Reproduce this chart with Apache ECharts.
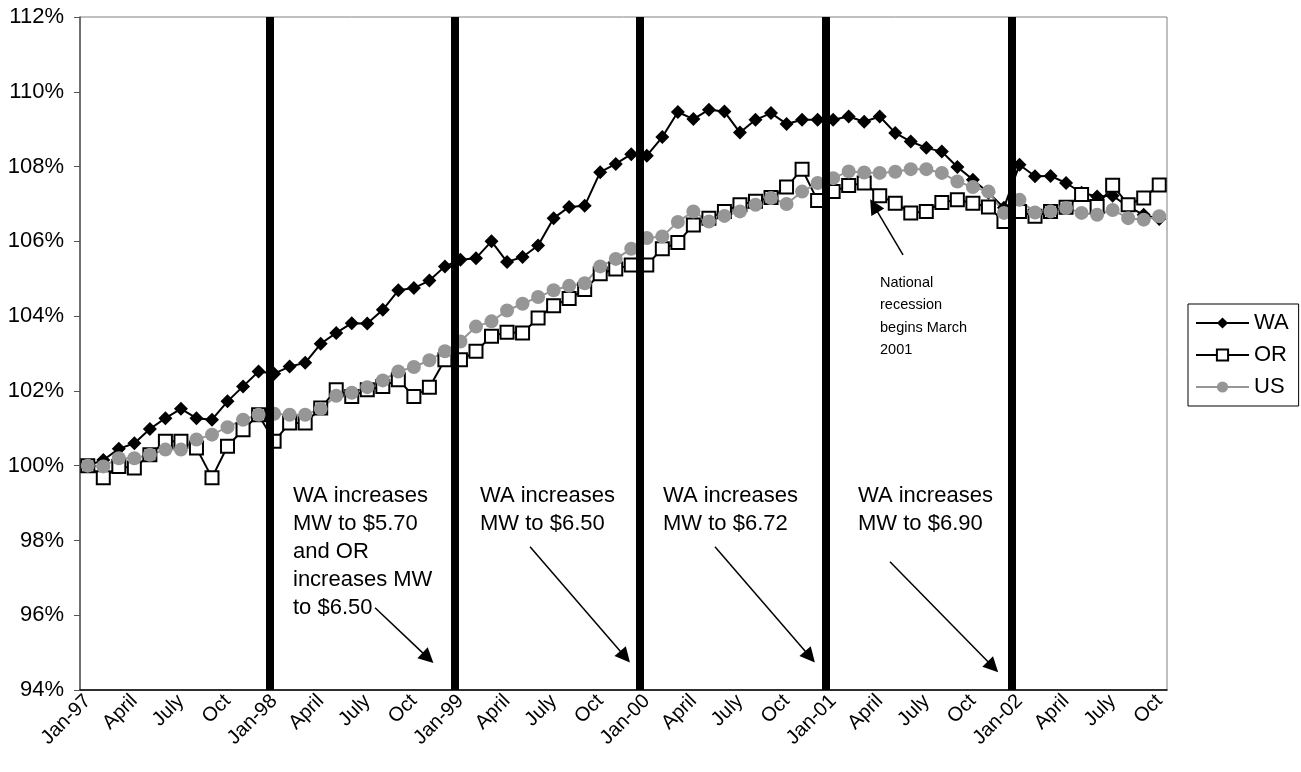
<!DOCTYPE html>
<html>
<head>
<meta charset="utf-8">
<script src="https://cdn.jsdelivr.net/npm/echarts@6/dist/echarts.min.js"></script>
<style>
  html, body { margin: 0; padding: 0; background: #fff; }
  #main { width: 1301px; height: 772px; }
</style>
</head>
<body>
<div id="main"></div>
<script>
// month labels, Jan-97 .. Oct-02
var years = ['97', '98', '99', '00', '01', '02'];
var monthNames = ['Jan', 'Feb', 'Mar', 'April', 'May', 'June', 'July', 'Aug', 'Sep', 'Oct', 'Nov', 'Dec'];
var categories = [];
years.forEach(function (y) {
    monthNames.forEach(function (m, k) {
        categories.push(k === 0 ? 'Jan-' + y : m);
    });
});
categories = categories.slice(0, 70);

// employment index, Jan-97 = 100%
var waValues = [
    100.0, 100.15, 100.45, 100.6, 100.98, 101.27, 101.52, 101.27, 101.23, 101.72, 102.12, 102.52,
    102.46, 102.65, 102.75, 103.26, 103.55, 103.81, 103.8, 104.17, 104.69, 104.75, 104.95, 105.33,
    105.51, 105.55, 106.0, 105.45, 105.58, 105.89, 106.62, 106.92, 106.95, 107.85, 108.07, 108.33,
    108.29, 108.79, 109.46, 109.27, 109.52, 109.47, 108.91, 109.25, 109.43, 109.14, 109.25, 109.25,
    109.25, 109.34, 109.2, 109.34, 108.9, 108.67, 108.5, 108.4, 107.99, 107.65, 107.3, 106.9,
    108.05, 107.74, 107.75, 107.56, 107.3, 107.2, 107.22, 106.93, 106.71, 106.6
];
var orValues = [
    100.0, 99.68, 99.98, 99.94, 100.29, 100.65, 100.65, 100.47, 99.68, 100.52, 100.96, 101.36,
    100.65, 101.14, 101.14, 101.54, 102.03, 101.85, 102.03, 102.12, 102.3, 101.85, 102.1, 102.83,
    102.83, 103.06, 103.46, 103.57, 103.55, 103.95, 104.28, 104.47, 104.71, 105.13, 105.26, 105.37,
    105.37, 105.8, 105.97, 106.44, 106.62, 106.8, 106.98, 107.07, 107.17, 107.45, 107.93, 107.09,
    107.33, 107.49, 107.56, 107.22, 107.02, 106.76, 106.8, 107.04, 107.11, 107.02, 106.92, 106.53,
    106.8, 106.67, 106.8, 106.91, 107.25, 106.93, 107.5, 106.98, 107.16, 107.51
];
var usValues = [
    100.0, 99.98, 100.2, 100.2, 100.29, 100.43, 100.43, 100.7, 100.83, 101.03, 101.23, 101.36,
    101.39, 101.36, 101.36, 101.52, 101.87, 101.95, 102.1, 102.28, 102.52, 102.64, 102.82, 103.06,
    103.32, 103.72, 103.86, 104.15, 104.33, 104.51, 104.69, 104.81, 104.88, 105.33, 105.53, 105.8,
    106.09, 106.13, 106.52, 106.8, 106.53, 106.68, 106.8, 106.98, 107.16, 107.0, 107.33, 107.56,
    107.69, 107.87, 107.84, 107.83, 107.86, 107.93, 107.93, 107.83, 107.6, 107.45, 107.33, 106.76,
    107.11, 106.77, 106.8, 106.89, 106.76, 106.71, 106.84, 106.62, 106.58, 106.67
];

// minimum wage dates (month index on a 0..70 scale)
var mwIncreases = [12.24, 24.12, 36.04, 48.04, 60.0];
var mwNotes = [
    'WA increases\nMW to $5.70\nand OR\nincreases MW\nto $6.50',
    'WA increases\nMW to $6.50',
    'WA increases\nMW to $6.72',
    'WA increases\nMW to $6.90'
];
// arrows [fromX, fromY, toX, toY] in month index / percent
var arrows = [
    [19.0, 96.2, 22.41, 94.86],
    [28.98, 97.83, 35.10, 94.89],
    [40.89, 97.83, 47.01, 94.89],
    [52.16, 97.43, 58.79, 94.62],
    [53.0, 105.64, 51.13, 106.95]
];

var font = 'Arial, "Liberation Sans", sans-serif';
var myChart = echarts.init(document.getElementById('main'));

var noteX = [293, 480, 663, 858];
var graphics = mwNotes.map(function (t, i) {
    return {
        type: 'text', left: noteX[i], top: 482, z: 20,
        style: { text: t, font: '22px ' + font, lineHeight: 28, fill: '#000' }
    };
});
graphics.push({
    type: 'text', left: 880, top: 272, z: 20,
    style: { text: 'National\nrecession\nbegins March\n2001', font: '14.5px ' + font, lineHeight: 22.3, fill: '#000' }
});

var option = {
    animation: false,
    backgroundColor: '#fff',
    textStyle: { fontFamily: font },
    grid: { left: 80, right: 134, top: 17, bottom: 82, show: true, borderColor: '#808080', borderWidth: 1 },
    legend: {
        data: ['WA', 'OR', 'US'],
        orient: 'vertical',
        left: 1188, top: 304,
        padding: [8, 10, 8, 7],
        itemWidth: 53, itemHeight: 14, itemGap: 10,
        borderColor: '#000', borderWidth: 1,
        textStyle: { fontSize: 22, color: '#000', fontFamily: font }
    },
    xAxis: [{
        type: 'category',
        data: categories,
        boundaryGap: true,
        axisLine: { lineStyle: { color: '#000', width: 1.5 } },
        axisTick: { interval: 0, length: 6, lineStyle: { color: '#000' } },
        axisLabel: { interval: 2, rotate: 45, fontSize: 20, color: '#000', fontFamily: font, margin: 8 },
        splitLine: { show: false }
    }, {
        type: 'value', min: 0, max: 70, show: false
    }],
    yAxis: {
        type: 'value',
        min: 94, max: 112, interval: 2,
        axisLine: { show: true, lineStyle: { color: '#555', width: 1.5 } },
        axisTick: { show: true, length: 6, lineStyle: { color: '#555' } },
        axisLabel: { formatter: '{value}%', fontSize: 22, color: '#000', fontFamily: font, margin: 16 },
        splitLine: { show: false }
    },
    graphic: graphics,
    series: [
        {
            name: 'WA', type: 'line', data: waValues,
            symbol: 'diamond', symbolSize: 14, showAllSymbol: true,
            lineStyle: { color: '#000', width: 2 },
            itemStyle: { color: '#000' }
        },
        {
            name: 'OR', type: 'line', data: orValues,
            symbol: 'rect', symbolSize: 13, showAllSymbol: true,
            lineStyle: { color: '#000', width: 2 },
            itemStyle: { color: '#fff', borderColor: '#000', borderWidth: 2 }
        },
        {
            name: 'US', type: 'line', data: usValues,
            symbol: 'circle', symbolSize: 14, showAllSymbol: true,
            lineStyle: { color: '#969696', width: 2 },
            itemStyle: { color: '#969696' }
        },
        {
            name: 'mw', type: 'line', xAxisIndex: 1, data: [], z: 5, silent: true,
            markLine: {
                silent: true, symbol: 'none', animation: false,
                label: { show: false },
                lineStyle: { color: '#000', width: 8, type: 'solid' },
                emphasis: { disabled: true },
                data: mwIncreases.map(function (v) { return { xAxis: v }; })
            }
        },
        {
            name: 'arrows', type: 'line', xAxisIndex: 1, data: [], z: 6, silent: true,
            markLine: {
                silent: true, symbol: ['none', 'triangle'], symbolSize: 15, animation: false,
                label: { show: false },
                lineStyle: { color: '#000', width: 1.5, type: 'solid' },
                itemStyle: { color: '#000' },
                emphasis: { disabled: true },
                data: arrows.map(function (a) {
                    return [{ coord: [a[0], a[1]] }, { coord: [a[2], a[3]] }];
                })
            }
        }
    ]
};

option && myChart.setOption(option);
</script>
</body>
</html>
